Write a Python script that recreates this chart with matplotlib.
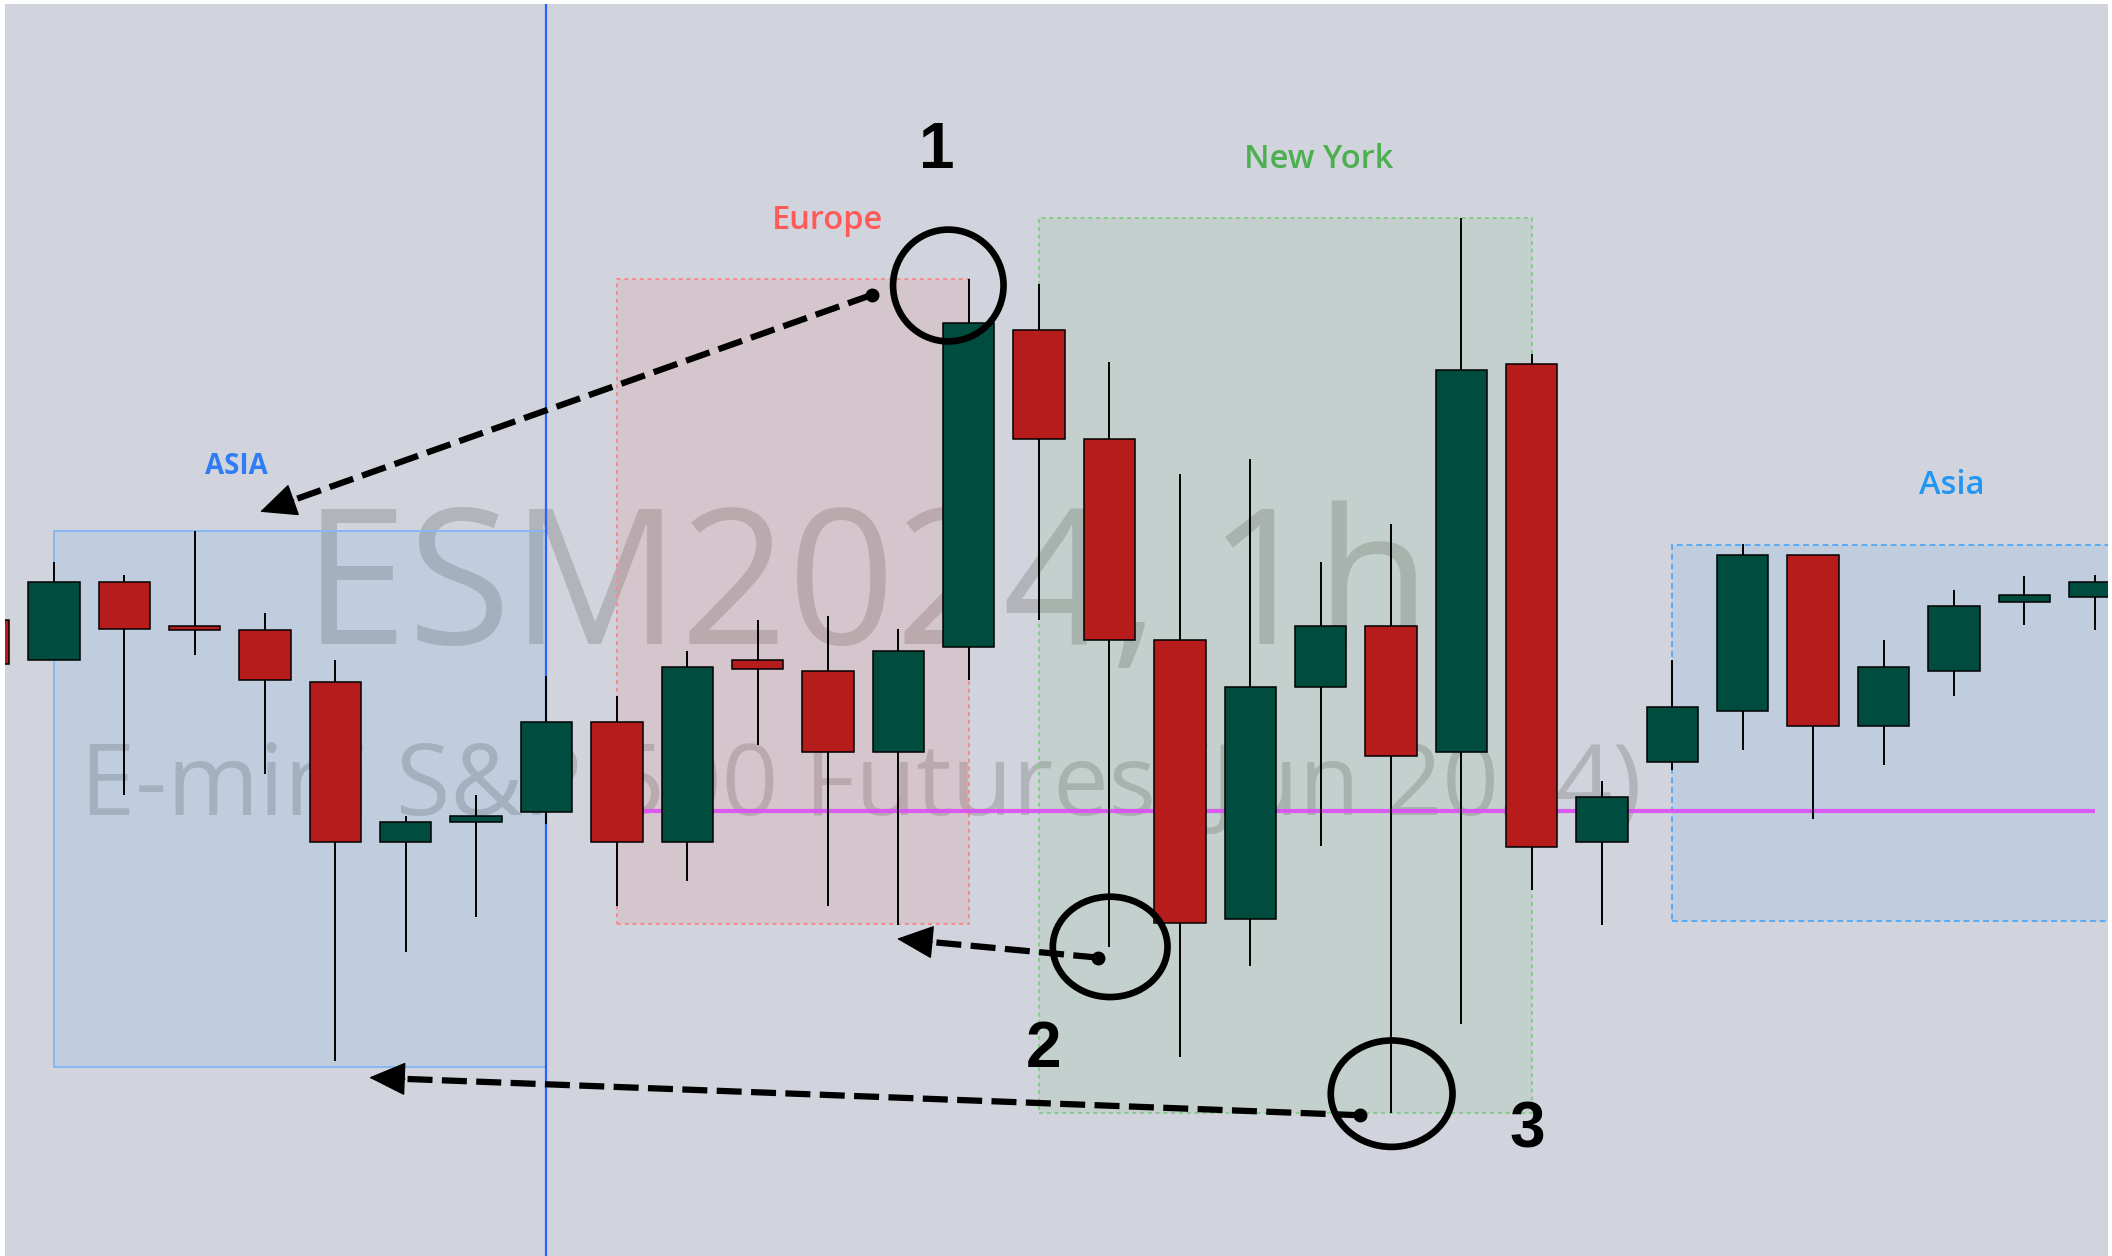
"""Recreate the ESM2024 1h session chart (Asia / Europe / New York boxes)."""

import matplotlib
matplotlib.use("Agg")
import matplotlib.pyplot as plt
import numpy as np
from matplotlib.colors import to_rgba
from matplotlib.patches import Ellipse, Rectangle

# ------------------------------------------------------------------ candles
bar_index = list(range(-1, 30))
opens = [5247.2, 5244.2, 5250.0, 5246.7, 5246.4, 5242.6, 5230.7, 5232.2, 5232.9, 5239.6,
         5230.7, 5244.2, 5243.4, 5237.4, 5245.2, 5268.7, 5260.6, 5245.7, 5225.0, 5242.2,
         5246.7, 5237.4, 5266.2, 5230.7, 5236.6, 5240.4, 5252.0, 5239.3, 5243.4, 5248.5, 5248.9]
highs = [5248.0, 5251.5, 5250.5, 5253.8, 5247.7, 5244.2, 5232.6, 5234.2, 5243.0, 5241.5,
         5244.9, 5247.2, 5247.5, 5246.5, 5272.5, 5272.1, 5266.3, 5258.0, 5259.1, 5251.5,
         5254.3, 5277.0, 5266.9, 5235.2, 5244.2, 5252.8, 5252.0, 5245.7, 5249.4, 5250.4, 5250.5]
lows = [5243.0, 5244.2, 5234.2, 5244.6, 5235.7, 5214.4, 5222.5, 5225.1, 5232.0, 5225.9,
        5227.8, 5237.9, 5225.9, 5224.5, 5242.7, 5247.2, 5222.9, 5214.7, 5221.5, 5230.4,
        5210.6, 5217.2, 5227.1, 5224.5, 5236.0, 5237.5, 5232.4, 5236.4, 5241.5, 5246.8, 5246.4]
closes = [5243.9, 5250.0, 5246.5, 5246.4, 5242.7, 5230.7, 5232.2, 5232.6, 5239.6, 5230.7,
          5243.7, 5243.5, 5237.4, 5244.9, 5269.2, 5260.6, 5245.7, 5224.7, 5242.2, 5246.7,
          5237.1, 5265.7, 5230.3, 5234.0, 5240.7, 5252.0, 5239.3, 5243.7, 5248.2, 5249.0, 5250.0]

# --------------------------------------------------------------- sessions
session_labels = ["ASIA", "Europe", "New York", "Asia"]
session_colors = ["#2196f3", "#ff5252", "#4caf50", "#2196f3"]
session_text_colors = ["#2f7cf6", "#ff5a5a", "#4caf50", "#2196f3"]
session_edge_colors = ["#86b8f4", "#f58a8c", "#84cc88", "#5aaaf2"]
session_edge_styles = ["-", (0, (2, 2)), (0, (2, 2)), (0, (3, 2))]
session_start = [0, 8, 14, 23]
session_end = [7, 13, 21, 30]
session_high = [5253.8, 5272.5, 5277.0, 5252.7]
session_low = [5214.0, 5224.6, 5210.6, 5224.8]
label_x = [2.6, 11.0, 17.97, 26.97]
label_y = [5258.0, 5276.2, 5280.7, 5256.5]
label_size = [20, 23.5, 23.5, 23.5]

# ------------------------------------------------------------ annotations
level_price = 5233.0
level_start, level_end = 8, 29
marker_bar = 7

circle_x = [12.71, 15.01, 19.01]
circle_y = [5272.0, 5222.9, 5212.0]
circle_w = [1.57, 1.63, 1.73]
circle_h = [8.3, 7.45, 7.9]

number_labels = ["1", "2", "3"]
number_x = [12.55, 14.06, 20.93]
number_y = [5280.7, 5214.0, 5208.0]

arrow_from_x = [11.62, 14.84, 18.56]
arrow_from_y = [5271.3, 5222.1, 5210.4]
arrow_to_x = [2.93, 11.98, 4.48]
arrow_to_y = [5255.2, 5223.5, 5213.2]

watermark_lines = ["ESM2024, 1h", "E-mini S&P 500 Futures (Jun 2024)"]
watermark_x = [11.56, 11.47]
watermark_y = [5245.4, 5232.7]
watermark_size = [135.5, 71.5]

BG = "#d1d4dc"
GREEN = "#004d40"
RED = "#b71c1c"
SANS = ["Open Sans", "DejaVu Sans"]
HEAD_PX = 34  # arrowhead length in pixels


fig = plt.figure(figsize=(21.12, 12.56), dpi=100)
fig.patch.set_facecolor("white")
ax = fig.add_axes([5 / 2112, 0, 2103 / 2112, 1252 / 1256])
ax.set_facecolor(BG)
for s in ax.spines.values():
    s.set_visible(False)
ax.set_xticks([]); ax.set_yticks([])
ax.set_xlim(-0.695, 29.19)
ax.set_ylim(5199.95, 5292.9)

# watermark sits under everything
for txt, x, y, fs in zip(watermark_lines, watermark_x, watermark_y, watermark_size):
    ax.text(x, y, txt, fontsize=fs, color="#b3b4b9", ha="center", va="baseline",
            family=SANS, zorder=0.5)

# session boxes + labels
for i, name in enumerate(session_labels):
    rect = Rectangle((session_start[i], session_low[i]),
                     session_end[i] - session_start[i], session_high[i] - session_low[i],
                     facecolor=to_rgba(session_colors[i], 0.1), edgecolor=session_edge_colors[i],
                     linestyle=session_edge_styles[i], lw=1.4, zorder=1)
    ax.add_patch(rect)
    ax.text(label_x[i], label_y[i], name, fontsize=label_size[i], color=session_text_colors[i],
            ha="center", va="baseline", family=SANS,
            fontweight="bold" if i == 0 else "semibold", zorder=6)

ax.axvline(marker_bar, color="#2962ff", lw=1.6, zorder=1.5)
ax.hlines(level_price, level_start, level_end, color="#dc4ef5", lw=3, alpha=0.9, zorder=2)

# candles
o = np.array(opens); c = np.array(closes)
colors = np.where(c >= o, GREEN, RED)
ax.vlines(bar_index, lows, highs, color="black", lw=1.4, zorder=3)
ax.bar(bar_index, np.abs(c - o), bottom=np.minimum(o, c), width=0.73, color=colors,
       edgecolor="black", lw=1.1, zorder=4)

# circles, numbers
for i in range(len(circle_x)):
    ax.add_patch(Ellipse((circle_x[i], circle_y[i]), circle_w[i], circle_h[i],
                         fill=False, ec="black", lw=4.8, zorder=7))
for t, x, y in zip(number_labels, number_x, number_y):
    ax.text(x, y, t, fontsize=46, fontweight="bold", color="black", ha="center",
            va="baseline", family=["Liberation Sans", "DejaVu Sans"], zorder=7)

# dashed arrows: dashed shaft, solid head
to_disp = ax.transData
from_disp = ax.transData.inverted()
for i in range(len(arrow_from_x)):
    start = np.array([arrow_from_x[i], arrow_from_y[i]])
    tip = np.array([arrow_to_x[i], arrow_to_y[i]])
    p0, p1 = to_disp.transform(start), to_disp.transform(tip)
    d = (p0 - p1) / np.hypot(*(p0 - p1))
    neck = from_disp.transform(p1 + d * HEAD_PX * 0.8)
    ax.plot([start[0], neck[0]], [start[1], neck[1]], color="black", lw=4.5,
            ls=(0, (4, 1.5)), solid_capstyle="butt", zorder=7)
    ax.annotate("", xy=tip, xytext=from_disp.transform(p1 + d * HEAD_PX * 1.05),
                arrowprops=dict(arrowstyle="-|>,head_length=1.2,head_width=0.55",
                                mutation_scale=20, lw=1, color="black",
                                shrinkA=0, shrinkB=0), zorder=7)
    ax.plot(start[0], start[1], "o", ms=9, color="black", zorder=8)

fig.savefig("out.png", dpi=100, facecolor=fig.get_facecolor())
